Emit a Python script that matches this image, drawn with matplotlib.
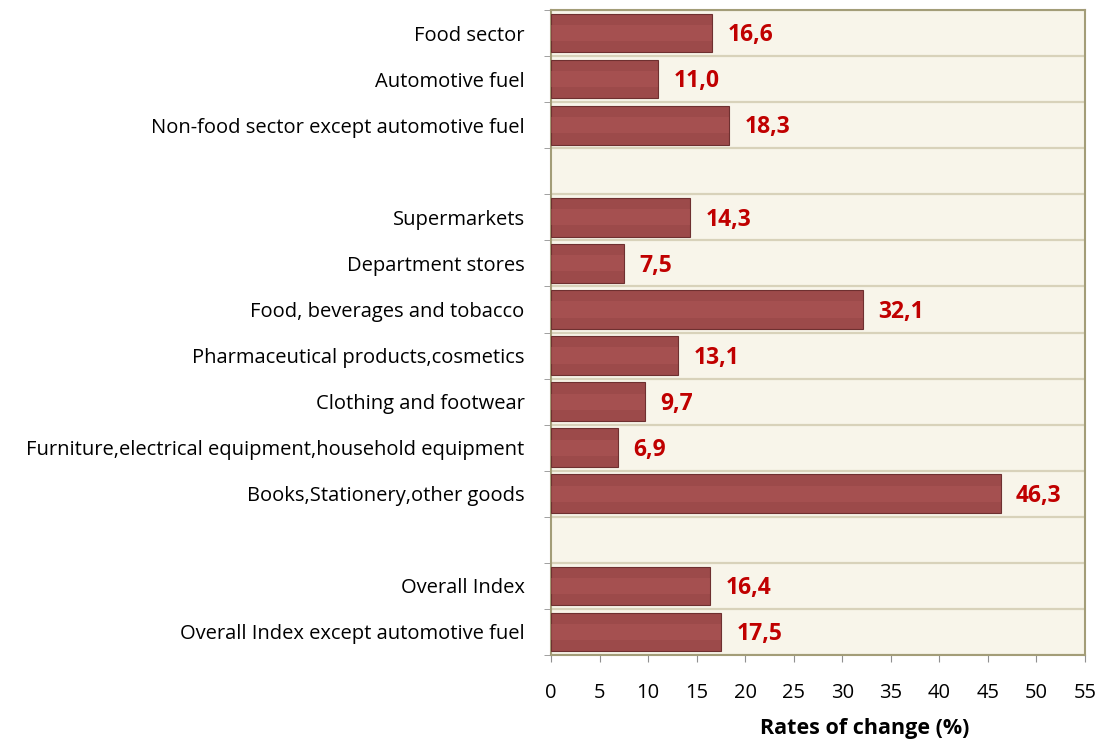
import matplotlib
matplotlib.use("Agg")
import matplotlib.pyplot as plt
import numpy as np

plt.rcParams['font.family'] = ['Open Sans', 'DejaVu Sans']

# categories from top to bottom ('' = empty spacer row)
categories = [
    "Food sector",
    "Automotive fuel",
    "Non-food sector except automotive fuel",
    "",
    "Supermarkets",
    "Department stores",
    "Food, beverages and tobacco",
    "Pharmaceutical products,cosmetics",
    "Clothing and footwear",
    "Furniture,electrical equipment,household equipment",
    "Books,Stationery,other goods",
    "",
    "Overall Index",
    "Overall Index except automotive fuel",
]
values = [16.6, 11.0, 18.3, None, 14.3, 7.5, 32.1, 13.1, 9.7, 6.9, 46.3, None, 16.4, 17.5]
x_ticks = list(range(0, 60, 5))

bar_color = '#9C4A4A'
edge_color = '#6E3030'
label_color = '#C00000'
spine_color = '#A39D78'
grid_color = '#D8D2BA'

fig = plt.figure(figsize=(11.01, 7.42), dpi=100)
ax = fig.add_axes([551 / 1101, 1 - 655 / 742, 534 / 1101, 645 / 742])
ax.set_facecolor('#F8F5EA')

n = len(categories)
ypos = np.arange(n)
for i, v in enumerate(values):
    if v is None:
        continue
    ax.barh(i, v, height=0.84, color=bar_color, edgecolor=edge_color, linewidth=0.8, zorder=3)
    # lighter stripe for the excel-like gradient
    ax.barh(i, v, height=0.35, color='#B05858', alpha=0.45, linewidth=0, zorder=3.5)
    ax.text(v + 1.6, i + 0.05, f"{v:.1f}".replace('.', ','), color=label_color, fontsize=16.5,
            fontweight='bold', va='center', ha='left', zorder=4)

ax.set_xlim(0, 55)
ax.set_ylim(n - 0.5, -0.5)
ax.set_xticks(x_ticks)
ax.set_xticklabels([str(t) for t in x_ticks], fontsize=14.5)
ax.set_yticks(ypos)
ax.set_yticklabels(categories, fontsize=14.5)
ax.set_yticks(np.arange(-0.5, n, 1), minor=True)

ax.tick_params(axis='y', which='major', length=0, pad=19)
ax.tick_params(axis='y', which='minor', length=5, color='#909090', direction='out')
ax.tick_params(axis='x', which='major', length=5, color='#909090', direction='out', pad=15)
ax.grid(True, axis='y', which='minor', color=grid_color, linewidth=1.6, zorder=1)
ax.set_axisbelow(True)

for s in ax.spines.values():
    s.set_color(spine_color)
    s.set_linewidth(1.5)

ax.set_xlabel("Rates of change (%)", fontsize=15.5, fontweight='bold')
ax.xaxis.set_label_coords(0.588, -0.097)

fig.savefig("out.png", dpi=100)
